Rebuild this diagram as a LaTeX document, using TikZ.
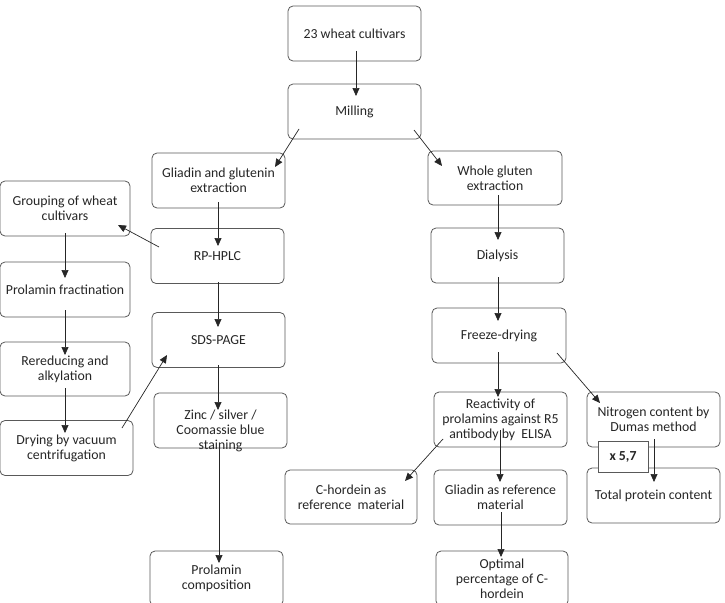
\documentclass[tikz,border=0pt]{standalone}
\usepackage{fontspec}
\setmainfont{Carlito}
\usetikzlibrary{arrows.meta}
\begin{document}
\begin{tikzpicture}[x=1pt,y=-1pt,
  box/.style={draw=black!65, line width=0.8pt, rounded corners=5pt, fill=white,
    minimum width=133pt, minimum height=55pt, inner sep=0pt, align=center,
    font=\fontsize{13.8}{15}\selectfont, text=black!85},
  arr/.style={draw=black!85, line width=0.7pt, -{Triangle[length=8pt,width=7pt]}},
  tag/.style={draw=black!65, line width=0.8pt, fill=white, minimum width=50pt,
    minimum height=31pt, inner sep=0pt, font=\fontsize{13.8}{15}\selectfont\bfseries, text=black!85}]
\useasboundingbox (0,0) rectangle (725,602);
% left-centre column
\node[box] (w23) at (354.5,33.5) {23 wheat cultivars};
\node[box] (mill) at (354.5,111.5) {Milling};
\node[box] (gg) at (218.5,180.5) {Gliadin and glutenin\\extraction};
\node[box] (rp) at (217.5,256) {RP-HPLC};
\node[box] (sds) at (218.5,340) {SDS-PAGE};
\node[box, text depth=0pt] (zinc) at (220.5,420.5) {\raisebox{-4pt}{\parbox{133pt}{\centering Zinc / silver /\\Coomassie blue\\staining}}};
\node[box] (pcomp) at (216.5,578.5) {Prolamin\\composition};
% far-left column
\node[box, minimum width=130pt] (group) at (65,208.5) {Grouping of wheat\\cultivars};
\node[box, minimum width=130pt] (pf) at (65,289.5) {Prolamin fractination};
\node[box, minimum width=130pt, minimum height=54pt] (rer) at (65,369) {Rereducing and\\alkylation};
\node[box] (dry) at (66.5,448) {Drying by vacuum\\centrifugation};
% right column
\node[box, minimum width=134pt, minimum height=54pt] (whole) at (495,178) {Whole gluten\\extraction};
\node[box] (dial) at (497.5,255.5) {Dialysis};
\node[box, minimum width=134pt] (freeze) at (499,335.5) {Freeze-drying};
\node[box] (react) at (500.5,419.5) {Reactivity of\\prolamins against R5\\antibody by~ ELISA};
\node[box] (nitro) at (653.5,419.5) {Nitrogen content by\\Dumas method};
\node[box, minimum width=132pt, minimum height=54pt] (chord) at (351,497) {C-hordein as\\reference~ material};
\node[box] (glref) at (500.5,497.5) {Gliadin as reference\\material};
\node[box] (total) at (653.5,495.5) {Total protein content};
\node[box, minimum width=132pt] (opt) at (502,578.5) {Optimal\\percentage of C-\\hordein};
\node[tag] (x57) at (623,456.5) {x 5,7};
% connectors
\draw[arr] ([shift={(1.5,17.5)}]w23.center) -- ([shift={(1.5,-15.5)}]mill.center);
\draw[arr] ([shift={(-55.5,17.5)}]mill.center) -- ([shift={(56.5,-13.5)}]gg.center);
\draw[arr] ([shift={(59.5,18.5)}]mill.center) -- ([shift={(-53,-12)}]whole.center);
\draw[arr] ([shift={(-0.5,21.5)}]gg.center) -- ([shift={(0.5,-10)}]rp.center);
\draw[arr] ([shift={(-58.5,-9)}]rp.center) -- ([shift={(53,16.5)}]group.center);
\draw[arr] ([shift={(0,24.5)}]group.center) -- ([shift={(0,-11.5)}]pf.center);
\draw[arr] ([shift={(0,20.5)}]pf.center) -- ([shift={(0,-14)}]rer.center);
\draw[arr] ([shift={(0,19)}]rer.center) -- ([shift={(-1.5,-15)}]dry.center);
\draw[arr] ([shift={(55.5,-20)}]dry.center) -- ([shift={(-51.5,15)}]sds.center);
\draw[arr] ([shift={(0.5,26)}]rp.center) -- ([shift={(-0.5,-13)}]sds.center);
\draw[arr] ([shift={(-0.5,25)}]sds.center) -- ([shift={(-2.5,-10.5)}]zinc.center);
\draw[arr] ([shift={(-1.5,27.5)}]zinc.center) -- ([shift={(2.5,-15.5)}]pcomp.center);
\draw[arr] ([shift={(3,17)}]whole.center) -- ([shift={(0.5,-15.5)}]dial.center);
\draw[arr] ([shift={(0.5,21.5)}]dial.center) -- ([shift={(-1,-14.5)}]freeze.center);
\draw[arr] ([shift={(-1,16.5)}]freeze.center) -- ([shift={(-2.5,-22.5)}]react.center);
\draw[arr] ([shift={(58,17.5)}]freeze.center) -- ([shift={(-53.5,-16.5)}]nitro.center);
\draw[arr] ([shift={(-57.5,19.5)}]react.center) -- ([shift={(54,-16)}]chord.center);
\draw[arr] ([shift={(-0.5,10.5)}]react.center) -- ([shift={(-0.5,-15.5)}]glref.center);
\draw[arr] ([shift={(0.5,14.5)}]glref.center) -- ([shift={(-1,-21.5)}]opt.center);
\draw[arr] ([shift={(0.5,19.5)}]nitro.center) -- ([shift={(0.5,-13.5)}]total.center);
\end{tikzpicture}
\end{document}
